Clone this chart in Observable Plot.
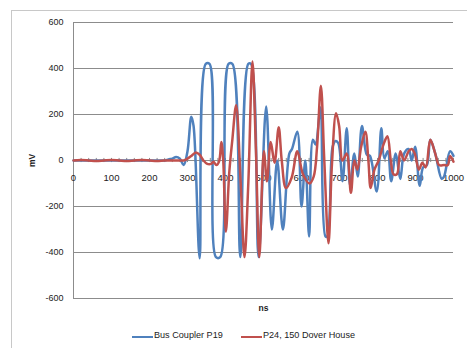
<!DOCTYPE html>
<html><head><meta charset="utf-8">
<script src="https://cdn.jsdelivr.net/npm/d3@7"></script>
<script src="https://cdn.jsdelivr.net/npm/@observablehq/plot@0.6"></script>
<style>
body{margin:0;background:#fff;font-family:"Liberation Sans",Arial,sans-serif;}
#wrap{position:relative;width:467px;height:348px;overflow:hidden;}
#frame{position:absolute;left:11px;top:10px;width:470px;height:350px;border:1px solid #c8c8c8;}
#chart{position:absolute;left:0;top:0;}
#legend{position:absolute;top:330px;left:0;width:467px;font-size:9.1px;color:#222;}
.sw{position:absolute;top:6px;height:2px;width:21px;}
.lt{position:absolute;top:0;}
</style></head><body>
<div id="wrap"><div id="frame"></div><div id="chart"></div>
<div id="legend">
<div class="sw" style="left:132px;background:#4f81bd"></div><div class="lt" style="left:154px">Bus Coupler P19</div>
<div class="sw" style="left:241px;background:#c0504d"></div><div class="lt" style="left:263px">P24, 150 Dover House</div>
</div></div>
<script>
const blueT = [0,20,40,60,80,100,120,140,160,180,200,220,240,250,260,270,280,290,300,310,316,332,348,358,375,386,408,418,439,460,467,487,507,522,536,551,568,575,589,600,610,620,630,637,650,663,668,682,690,697,708,719,728,739,748,759,772,780,798,810,818,827,836,848,860,870,882,890,899,911,920,930,939,952,969,975,991,1000];
const blueV = [0,0,0,0,0,0,0,0,0,0,0,0,0,5,8,15,8,-20,40,190,150,-425,420,420,-420,-420,420,420,-420,420,420,-420,235,-300,0,-300,30,50,125,-200,0,-330,90,70,230,-330,-330,60,85,75,-90,140,-110,30,-70,150,25,20,-135,140,10,40,-90,30,-80,30,50,0,60,-110,-30,-20,90,30,-80,-70,40,20];
const redT = [0,20,40,60,80,100,120,140,160,180,200,220,240,260,280,290,300,310,322,332,342,352,362,368,376,383,389,394,401,410,418,428,440,450,460,471,480,489,501,509,519,529,540,548,559,574,589,604,621,632,641,651,660,671,680,691,699,708,719,730,739,747,757,768,776,782,792,803,816,826,835,842,851,860,870,882,890,898,909,918,927,939,952,962,975,985,991,1000];
const redV = [0,2,0,-2,0,2,0,-2,0,2,0,-2,0,0,0,0,8,20,35,25,0,-15,-15,-5,-20,-5,80,0,-310,-50,90,240,-100,-420,-100,430,50,-420,40,-90,80,-10,145,0,-120,-75,40,-60,-100,-70,60,325,0,-360,-20,205,150,0,30,-140,0,-40,60,125,0,-120,-40,0,70,105,0,-60,-60,40,0,40,50,30,-40,-10,-30,90,30,-20,-20,-20,20,-5];
const yTicks = [-600,-400,-200,0,200,400,600];
const xTicks = [0,100,200,300,400,500,600,700,800,900,1000];
const minorTicks = d3.range(0,1001,20);

const blue = blueT.map((t,i)=>({t,v:blueV[i]}));
const red = redT.map((t,i)=>({t,v:redV[i]}));

const chart = Plot.plot({
  width:467, height:348,
  marginLeft:73, marginRight:14, marginTop:22, marginBottom:50,
  x:{domain:[0,1000], axis:null},
  y:{domain:[-600,600], ticks:yTicks, tickSize:0, tickPadding:10, label:null, tickFormat:d=>d},
  style:{fontFamily:"Liberation Sans, Arial, sans-serif", fontSize:"9px", color:"#222", background:"transparent"},
  marks:[
    Plot.ruleY(yTicks.filter(d=>d!==0), {stroke:"#8c8c8c", strokeOpacity:1, strokeWidth:1}),
    Plot.ruleX([0], {y1:-600, y2:600, stroke:"#8c8c8c"}),
    Plot.ruleY([0], {stroke:"#8c8c8c"}),
    Plot.ruleX(minorTicks, {y1:-9, y2:9, stroke:"#8c8c8c"}),
    Plot.text(xTicks, {x:d=>d, y:0, dy:17, text:d=>String(d), fontSize:9.5, fill:"#222"}),
    Plot.line(blue, {x:"t", y:"v", stroke:"#4f81bd", strokeWidth:2.5, curve:"catmull-rom"}),
    Plot.line(red, {x:"t", y:"v", stroke:"#c0504d", strokeWidth:2.5, curve:"catmull-rom"}),
    Plot.text(["ns"], {frameAnchor:"bottom", dy:12, text:d=>d, fontWeight:"bold", fontSize:8.5, fill:"#222"}),
    Plot.text(["mV"], {x:-0, y:0, dx:-41, rotate:-90, text:d=>d, fontWeight:"bold", fontSize:8.5, fill:"#222"})
  ]
});
document.getElementById("chart").appendChild(chart);
</script>
</body></html>
